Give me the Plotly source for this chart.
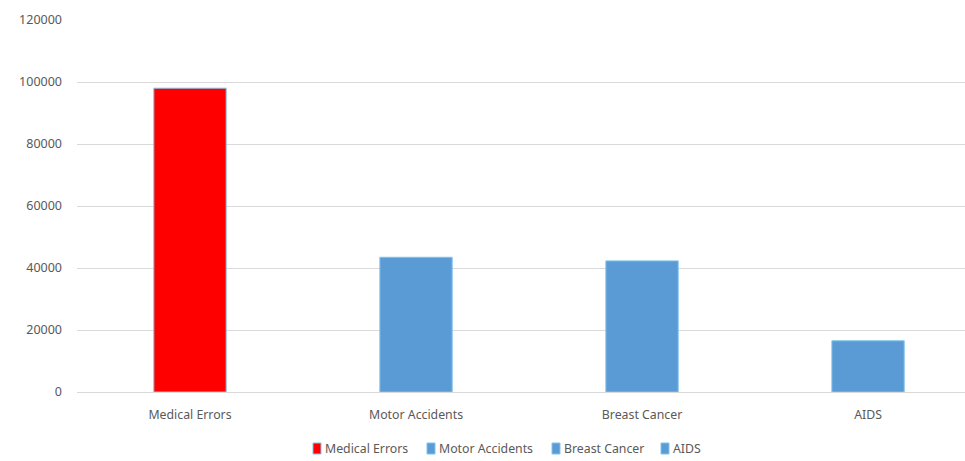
import plotly.graph_objects as go

categories = ["Medical Errors", "Motor Accidents", "Breast Cancer", "AIDS"]
deaths = [98000, 43458, 42297, 16516]
colors = ["#FF0000", "#5B9BD5", "#5B9BD5", "#5B9BD5"]
y_ticks = [0, 20000, 40000, 60000, 80000, 100000, 120000]

W, H = 965, 461
M_L, M_R, M_T, M_B = 77, 0, 20, 69
plot_w = W - M_L - M_R
plot_h = H - M_T - M_B
font_family = "Noto Sans, Open Sans, sans-serif"
text_color = "#595959"
edge_color = "#7FC4EA"

fig = go.Figure()
for cat, val, col in zip(categories, deaths, colors):
    fig.add_trace(go.Bar(
        x=[cat], y=[val], name=cat, width=0.32, showlegend=False,
        marker=dict(color=col, line=dict(color=edge_color, width=1)),
    ))

# Legend row below the chart: small square swatch followed by its label
legend_left_px = [313, 427, 552, 661]
legend_mid_px = 448.5
shapes, annotations = [], []
for cat, col, lx in zip(categories, colors, legend_left_px):
    x0 = (lx - M_L) / plot_w
    x1 = (lx + 8 - M_L) / plot_w
    y0 = (H - M_B - (legend_mid_px + 5.5)) / plot_h
    y1 = (H - M_B - (legend_mid_px - 5.5)) / plot_h
    shapes.append(dict(type="rect", xref="paper", yref="paper", x0=x0, x1=x1, y0=y0, y1=y1,
                       fillcolor=col, line=dict(color=edge_color, width=1)))
    annotations.append(dict(xref="paper", yref="paper", x=(lx + 10 - M_L) / plot_w,
                            y=(H - M_B - legend_mid_px) / plot_h, xanchor="left", yanchor="middle",
                            text=cat, showarrow=False,
                            font=dict(family=font_family, size=12.3, color=text_color)))

fig.update_layout(
    width=W, height=H,
    margin=dict(l=M_L, r=M_R, t=M_T, b=M_B),
    paper_bgcolor="white", plot_bgcolor="white",
    barmode="overlay",
    showlegend=False,
    shapes=shapes, annotations=annotations,
    font=dict(family=font_family, size=12.3, color=text_color),
)
fig.update_xaxes(
    range=[-0.5, 3.429], showgrid=False, showline=True, linecolor="#D9D9D9", linewidth=1,
    ticks="", ticklabelstandoff=11,
    tickfont=dict(family=font_family, size=12.3, color=text_color),
)
fig.update_yaxes(
    range=[0, 120000], tickvals=y_ticks, ticktext=[str(v) for v in y_ticks],
    showgrid=True, gridcolor="#D9D9D9", gridwidth=1, zeroline=False,
    showline=False, ticks="", ticklabelstandoff=14,
    tickfont=dict(family=font_family, size=12.5, color=text_color),
)

fig.write_html("out.html")
